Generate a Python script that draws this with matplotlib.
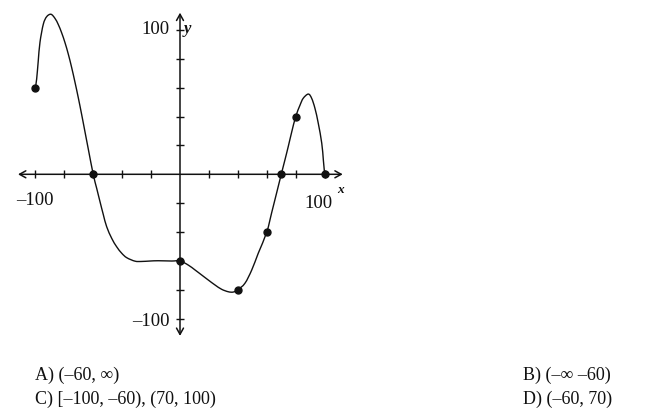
import numpy as np
import matplotlib
matplotlib.use("Agg")
import matplotlib.pyplot as plt
from matplotlib.path import Path
from matplotlib.patches import PathPatch

# ---- data ----
curve_x = [-100, -99.1, -98.0, -96.8, -94.5, -92.2, -89.2, -86.4, -84.1, -81.8, -79.5,
           -77.2, -74.9, -72.6, -70.3, -68.0, -65.7, -63.4, -60,
           -57.6, -55.3, -53.0, -50.7, -47.2, -43.8, -40.3, -36.8, -31.1, -26.5,
           -20.7, -15.0, -5.7, 0,
           5.7, 10.4, 15.0, 19.6, 24.2, 28.8, 33.4, 36.8, 40,
           44.9, 49.6, 54.1, 60, 63.4, 66.9, 70,
           72.6, 74.9, 77.2, 80, 83.0, 85.2, 88.7, 91.0, 93.3, 95.6, 98.0, 99.1, 100]
curve_y = [60, 66.0, 78.5, 91.5, 104.0, 109.2, 110.9, 108.0, 103.7, 98.0, 91.2,
           83.2, 74.0, 63.8, 53.0, 41.5, 29.5, 17.5, 0,
           -9.7, -19.0, -28.0, -36.3, -44.4, -50.2, -54.7, -57.8, -60.2, -60.4,
           -60.1, -59.9, -60.1, -60,
           -62.9, -66.3, -69.8, -73.3, -76.7, -79.7, -81.4, -81.6, -80,
           -75.5, -66.3, -54.7, -40, -26.5, -12.5, 0,
           10.2, 19.5, 29.2, 40, 48.0, 52.7, 55.6, 52.7, 45.7, 35.3, 21.5, 9.9, 0]
dot_x = [-100, -60, 0, 40, 60, 70, 80, 100]
dot_y = [60, 0, -60, -80, -40, 0, 40, 0]
x_ticks = [-100, -80, -60, -40, -20, 20, 40, 60, 80, 100]
y_ticks = [-100, -80, -60, -40, -20, 20, 40, 60, 80, 100]
answers_left = ["A) (–60, ∞)", "C) [–100, –60), (70, 100)"]
answers_right = ["B) (–∞ –60)", "D) (–60, 70)"]

W, H = 650, 415
fig = plt.figure(figsize=(W / 100, H / 100), dpi=100)
fig.patch.set_facecolor("white")

# axes placement so that data (-100..100) maps to px 35..324 horizontally, 318..30 vertically
sx = 289.3 / 200.0
sy = 288.6 / 200.0
xl, xr = -115, 115
yb, yt = -115, 115
left_px = 180 + xl * sx
right_px = 180 + xr * sx
top_px = 174.3 - yt * sy
bot_px = 174.3 - yb * sy
ax = fig.add_axes([left_px / W, 1 - bot_px / H, (right_px - left_px) / W, (bot_px - top_px) / H])
ax.set_xlim(xl, xr)
ax.set_ylim(yb, yt)
ax.axis("off")

serif = ["Liberation Serif", "DejaVu Serif"]
lc = "#111111"

# axes with open arrowheads
ax.annotate("", xy=(112.5, 0), xytext=(-112, 0),
            arrowprops=dict(arrowstyle="<->,head_length=0.45,head_width=0.25", lw=1.1, color=lc,
                            shrinkA=0, shrinkB=0))
ax.annotate("", xy=(0, 112), xytext=(0, -112),
            arrowprops=dict(arrowstyle="<->,head_length=0.45,head_width=0.25", lw=1.1, color=lc,
                            shrinkA=0, shrinkB=0))

# tick marks
ax.plot(x_ticks, [0] * len(x_ticks), linestyle="none", marker="|", markersize=6,
        markeredgewidth=1.0, color=lc)
ax.plot([0] * len(y_ticks), y_ticks, linestyle="none", marker="_", markersize=6,
        markeredgewidth=1.0, color=lc)

# smooth curve through the read points (Catmull-Rom -> cubic Bezier)
px = np.array(curve_x, float)
py = np.array(curve_y, float)
verts = [(px[0], py[0])]
codes = [Path.MOVETO]
n = len(px)
for i in range(n - 1):
    p0 = np.array([px[max(i - 1, 0)], py[max(i - 1, 0)]])
    p1 = np.array([px[i], py[i]])
    p2 = np.array([px[i + 1], py[i + 1]])
    p3 = np.array([px[min(i + 2, n - 1)], py[min(i + 2, n - 1)]])
    c1 = p1 + (p2 - p0) / 6.0
    c2 = p2 - (p3 - p1) / 6.0
    verts += [tuple(c1), tuple(c2), tuple(p2)]
    codes += [Path.CURVE4] * 3
ax.add_patch(PathPatch(Path(verts, codes), facecolor="none", edgecolor=lc, lw=1.0))

ax.plot(dot_x, dot_y, linestyle="none", marker="o", markersize=5, color=lc, zorder=5)

# axis labels
ax.text(-100, -18.5, "–100", ha="center", va="center", fontsize=13.5, family=serif, color=lc)
ax.text(95.5, -20, "100", ha="center", va="center", fontsize=13.5, family=serif, color=lc)
ax.text(-7.5, 100, "100", ha="right", va="center", fontsize=13.5, family=serif, color=lc)
ax.text(-7, -102, "–100", ha="right", va="center", fontsize=13.5, family=serif, color=lc)
ax.text(2.4, 100.5, "y", ha="left", va="center", fontsize=12, family=serif, color=lc,
        style="italic", weight="bold")
ax.text(110.6, -11, "x", ha="center", va="center", fontsize=9.5, family=serif, color=lc,
        style="italic", weight="bold")

# answer choices
fs = 13
fig.text(35 / W, 1 - 375.5 / H, answers_left[0], ha="left", va="center", fontsize=fs,
         family=serif, color=lc)
fig.text(35 / W, 1 - 399.5 / H, answers_left[1], ha="left", va="center", fontsize=fs,
         family=serif, color=lc)
fig.text(523 / W, 1 - 375.5 / H, answers_right[0], ha="left", va="center", fontsize=fs,
         family=serif, color=lc)
fig.text(523 / W, 1 - 399.5 / H, answers_right[1], ha="left", va="center", fontsize=fs,
         family=serif, color=lc)

fig.savefig("out.png", dpi=100)
